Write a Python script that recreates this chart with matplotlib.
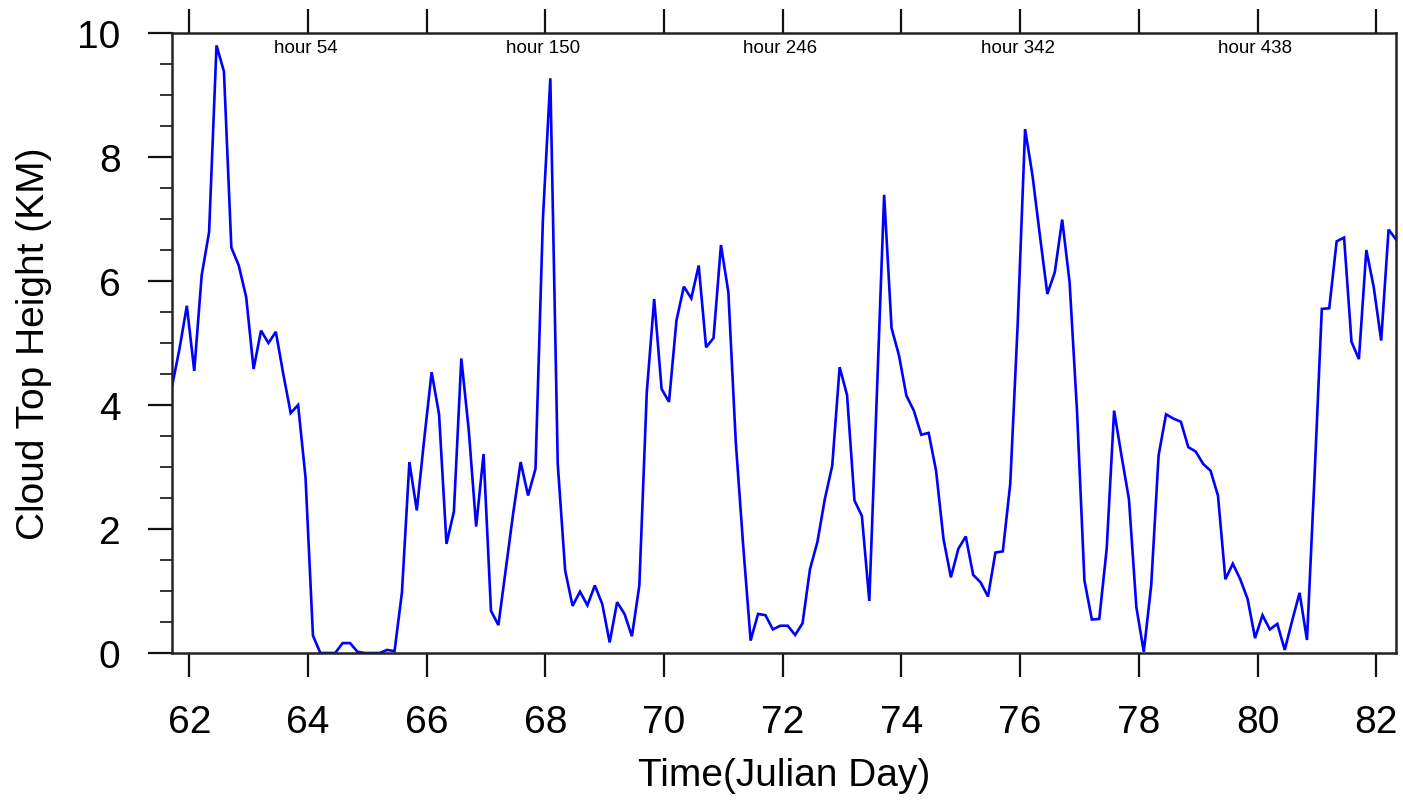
import matplotlib
matplotlib.use("Agg")
import matplotlib.pyplot as plt
from matplotlib.ticker import MultipleLocator
import numpy as np

plt.rcParams['font.family'] = ['Liberation Sans', 'DejaVu Sans']

# ---- data ----
start_day = 61 + 17 / 24.0          # hour 0
step_hours = 3
cloud_top_km = [
    4.30, 4.90, 5.60, 4.55, 6.09, 6.79, 9.80, 9.38, 6.54, 6.25,
    5.74, 4.58, 5.20, 5.00, 5.18, 4.50, 3.87, 4.00, 2.83, 0.28,
    0.00, 0.00, 0.00, 0.16, 0.16, 0.02, 0.00, 0.00, 0.00, 0.05,
    0.03, 0.98, 3.08, 2.30, 3.45, 4.53, 3.85, 1.76, 2.28, 4.75,
    3.60, 2.04, 3.21, 0.68, 0.45, 1.36, 2.26, 3.08, 2.54, 2.97,
    7.00, 9.27, 3.05, 1.33, 0.76, 0.99, 0.77, 1.09, 0.79, 0.17,
    0.82, 0.63, 0.27, 1.09, 4.20, 5.71, 4.26, 4.05, 5.36, 5.91,
    5.72, 6.25, 4.93, 5.08, 6.58, 5.82, 3.40, 1.73, 0.20, 0.63,
    0.61, 0.38, 0.44, 0.44, 0.29, 0.48, 1.35, 1.79, 2.48, 3.02,
    4.61, 4.16, 2.46, 2.21, 0.84, 4.10, 7.39, 5.24, 4.80, 4.15,
    3.91, 3.52, 3.55, 2.94, 1.84, 1.22, 1.68, 1.88, 1.26, 1.14,
    0.91, 1.62, 1.64, 2.73, 5.30, 8.45, 7.70, 6.73, 5.79, 6.14,
    6.99, 5.98, 3.90, 1.17, 0.54, 0.55, 1.68, 3.91, 3.18, 2.48,
    0.74, 0.02, 1.09, 3.19, 3.85, 3.78, 3.73, 3.32, 3.25, 3.05,
    2.94, 2.54, 1.19, 1.44, 1.19, 0.87, 0.24, 0.61, 0.38, 0.47,
    0.05, 0.52, 0.97, 0.21, 2.80, 5.55, 5.56, 6.64, 6.70, 5.02,
    4.74, 6.50, 5.90, 5.04, 6.83, 6.67,
]
hour_labels = [54, 150, 246, 342, 438]
x_ticks = [62, 64, 66, 68, 70, 72, 74, 76, 78, 80, 82]
y_ticks = [0, 2, 4, 6, 8, 10]

hours = np.arange(len(cloud_top_km)) * step_hours
days = start_day + hours / 24.0

# ---- figure ----
W, H, DPI = 1403, 803, 100
fig = plt.figure(figsize=(W / DPI, H / DPI), dpi=DPI)
ax = fig.add_axes([172 / W, 1 - 654 / H, (1396 - 172) / W, (654 - 34) / H])

ax.plot(days, cloud_top_km, color='#0000ff', lw=1.9, solid_joinstyle='miter')
ax.set_xlim(days[0], days[-1])
ax.set_ylim(0, 10)

ax.set_xticks(x_ticks)
ax.set_yticks(y_ticks)
ax.yaxis.set_minor_locator(MultipleLocator(0.5))

for s in ax.spines.values():
    s.set_linewidth(1.8)
    s.set_color('#222222')

ax.tick_params(axis='x', which='major', direction='out', length=17, width=1.6,
               top=True, bottom=True, labeltop=False, labelsize=28, pad=20,
               color='#111111')
ax.tick_params(axis='y', which='major', direction='out', length=17, width=1.6,
               left=True, right=False, labelsize=28, pad=20, color='#111111')
ax.tick_params(axis='y', which='minor', direction='out', length=8.5, width=1.4,
               left=True, right=False, color='#333333')

ax.set_xlabel('Time(Julian Day)', fontsize=28, labelpad=12)
ax.set_ylabel('Cloud Top Height (KM)', fontsize=28, labelpad=18)

for h in hour_labels:
    ax.text(start_day + h / 24.0, 9.77, f'hour {h}', ha='center', va='center',
            fontsize=13.5, color='black')

fig.savefig('out.png', dpi=DPI)
